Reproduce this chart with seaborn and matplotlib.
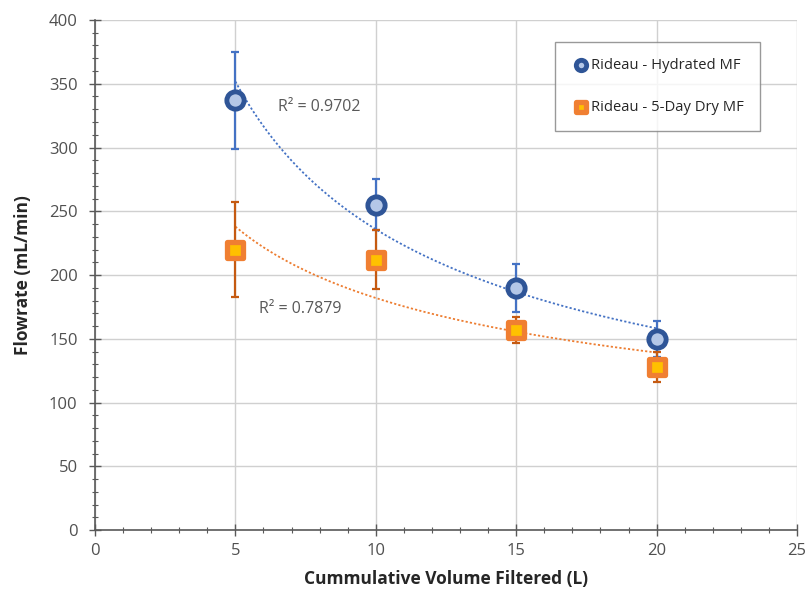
import numpy as np
import pandas as pd
import matplotlib
matplotlib.use("Agg")
import matplotlib.pyplot as plt
from matplotlib.ticker import MultipleLocator
import seaborn as sns

# Cumulative volume filtered (L)
volume = [5, 10, 15, 20]

# Rideau - Hydrated MF
hydrated_flow = [337, 255, 190, 150]
hydrated_err = [38, 20, 19, 14]

# Rideau - 5-Day Dry MF
dry_flow = [220, 212, 157, 128]
dry_err = [37, 23, 10, 12]

r2_labels = ["R² = 0.9702", "R² = 0.7879"]

sns.set_theme(style="white")
plt.rcParams["font.family"] = ["Open Sans", "DejaVu Sans"]

fig = plt.figure(figsize=(8.1, 5.95), dpi=100)
ax = fig.add_axes([0.1173, 0.1092, 0.8667, 0.8572])

df = pd.DataFrame({
    "volume": volume * 2,
    "flow": hydrated_flow + dry_flow,
    "series": ["Rideau - Hydrated MF"] * 4 + ["Rideau - 5-Day Dry MF"] * 4,
})

blue_edge, blue_fill, blue_err = "#2F5597", "#B4C7E7", "#4472C4"
orange_edge, orange_fill, orange_err = "#F07F32", "#FFC000", "#C55A11"

# power-law trendlines
xs = np.linspace(5, 20, 200)
for flow, col in [(hydrated_flow, "#4472C4"), (dry_flow, "#ED7D31")]:
    b, a = np.polyfit(np.log(volume), np.log(flow), 1)
    ax.plot(xs, np.exp(a) * xs ** b, linestyle=(0, (1.2, 1.2)), color=col,
            lw=1.3, zorder=2)

# error bars
ax.errorbar(volume, hydrated_flow, yerr=hydrated_err, fmt="none",
            ecolor=blue_err, elinewidth=1.6, capsize=3, capthick=1.6, zorder=3)
ax.errorbar(volume, dry_flow, yerr=dry_err, fmt="none",
            ecolor=orange_err, elinewidth=1.6, capsize=3, capthick=1.6, zorder=3)

# markers
sns.scatterplot(data=df[df.series == "Rideau - Hydrated MF"], x="volume", y="flow",
                marker="o", s=155, color=blue_fill, edgecolor=blue_edge,
                linewidth=3.5, ax=ax, zorder=4, label="Rideau - Hydrated MF")
sns.scatterplot(data=df[df.series == "Rideau - 5-Day Dry MF"], x="volume", y="flow",
                marker="s", s=130, color=orange_fill, edgecolor=orange_edge,
                linewidth=3.8, ax=ax, zorder=4, label="Rideau - 5-Day Dry MF")
for coll in ax.collections[-2:]:
    coll.set_joinstyle("round")

ax.text(6.5, 332, r2_labels[0], fontsize=11.5, color="#595959", va="center")
ax.text(5.85, 173, r2_labels[1], fontsize=11.5, color="#595959", va="center")

ax.set_xlim(0, 25)
ax.set_ylim(0, 400)
ax.xaxis.set_major_locator(MultipleLocator(5))
ax.xaxis.set_minor_locator(MultipleLocator(1))
ax.yaxis.set_major_locator(MultipleLocator(50))
ax.yaxis.set_minor_locator(MultipleLocator(10))
ax.grid(True, which="major", color="#d0d0d0", lw=1.0)
ax.set_axisbelow(True)

for side in ["top", "right"]:
    ax.spines[side].set_visible(False)
for side in ["left", "bottom"]:
    ax.spines[side].set_color("#595959")
    ax.spines[side].set_linewidth(1.2)

ax.tick_params(which="major", direction="inout", length=9, width=1.0,
               color="#595959", labelsize=12, labelcolor="#505050",
               left=True, bottom=True)
ax.tick_params(which="minor", direction="inout", length=5, width=0.8,
               color="#595959", left=True, bottom=True)
ax.tick_params(axis="x", pad=5)
ax.tick_params(axis="y", pad=8)

ax.set_xlabel("Cummulative Volume Filtered (L)", fontsize=12.5, fontweight="bold",
              color="#262626", labelpad=8)
ax.set_ylabel("Flowrate (mL/min)", fontsize=12.5, fontweight="bold",
              color="#262626", labelpad=12)

leg = ax.legend(loc="upper right", bbox_to_anchor=(0.947, 0.957), frameon=True,
                fancybox=False, edgecolor="#808080", fontsize=10.6,
                labelspacing=1.8, borderpad=1.1, handletextpad=0.0,
                markerscale=0.6, borderaxespad=0, handlelength=1.3)
leg.get_frame().set_linewidth(1.0)
for t in leg.get_texts():
    t.set_color("#262626")

fig.savefig("out.png", dpi=100, facecolor="white")
